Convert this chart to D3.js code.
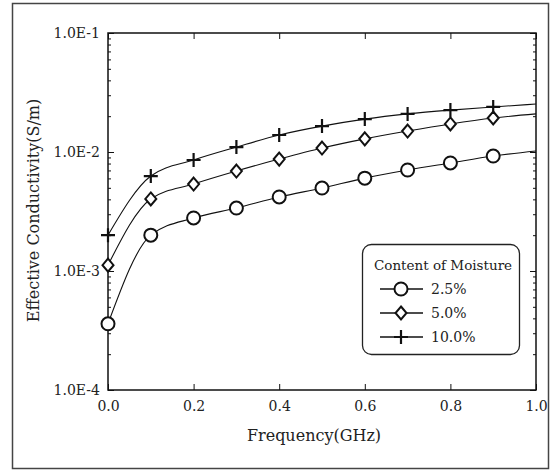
<!DOCTYPE html>
<html>
<head>
<meta charset="utf-8">
<script src="https://cdn.jsdelivr.net/npm/d3@7"></script>
<style>
  body { margin: 0; background: #fff; }
  text { font-family: "DejaVu Serif", "Liberation Serif", serif; fill: #222; }
</style>
</head>
<body>
<div id="chart"></div>
<script>
const frequency = [0.0, 0.1, 0.2, 0.3, 0.4, 0.5, 0.6, 0.7, 0.8, 0.9, 1.0];
const moisture25 = [3.6e-4, 2.0e-3, 2.79e-3, 3.38e-3, 4.19e-3, 4.98e-3, 6.03e-3, 7.06e-3, 8.09e-3, 9.25e-3, 1.02e-2];
const moisture50 = [1.12e-3, 4.03e-3, 5.38e-3, 6.92e-3, 8.72e-3, 1.08e-2, 1.29e-2, 1.50e-2, 1.72e-2, 1.93e-2, 2.09e-2];
const moisture100 = [2.0e-3, 6.28e-3, 8.57e-3, 1.10e-2, 1.39e-2, 1.65e-2, 1.89e-2, 2.09e-2, 2.25e-2, 2.39e-2, 2.53e-2];
const seriesNames = ['2.5%', '5.0%', '10.0%'];
const xTicks = [0, 0.2, 0.4, 0.6, 0.8, 1.0];
const yTicks = [1e-4, 1e-3, 1e-2, 1e-1];
const yTickLabels = ['1.0E-4', '1.0E-3', '1.0E-2', '1.0E-1'];

const W = 557, H = 472;
const margin = {top: 33, right: 21, bottom: 82, left: 108};
const width = W - margin.left - margin.right,
      height = H - margin.top - margin.bottom;

const svg = d3.select('#chart').append('svg')
    .attr('width', W)
    .attr('height', H);

// outer frame
svg.append('rect')
    .attr('x', 12.5).attr('y', 3.5)
    .attr('width', 536).attr('height', 465)
    .attr('fill', 'none')
    .attr('stroke', '#444')
    .attr('stroke-width', 1.5);

const g = svg.append('g')
    .attr('transform', `translate(${margin.left}, ${margin.top})`);

const xScale = d3.scaleLinear().domain([0, 1]).range([0, width]);
const yScale = d3.scaleLog().domain([1e-4, 1e-1]).range([height, 0]);

// minor y ticks (2..9 per decade)
const minor = [];
for (let d = -4; d < -1; d++) {
  for (let k = 2; k <= 9; k++) minor.push(k * Math.pow(10, d));
}

// axes
g.append('g')
    .attr('transform', `translate(0, ${height})`)
    .call(d3.axisBottom(xScale).tickValues(xTicks).tickSizeInner(-6).tickSizeOuter(0)
        .tickPadding(11).tickFormat(d3.format('.1f')));
g.append('g')
    .call(d3.axisTop(xScale).tickValues(xTicks).tickSizeInner(-6).tickSizeOuter(0).tickFormat(''));
g.append('g')
    .call(d3.axisLeft(yScale).tickValues(yTicks).tickSizeInner(-6).tickSizeOuter(0)
        .tickPadding(8).tickFormat((d, i) => yTickLabels[i]));
g.append('g')
    .call(d3.axisLeft(yScale).tickValues(minor).tickSizeInner(-3).tickSizeOuter(0).tickFormat(''));
g.append('g')
    .attr('transform', `translate(${width}, 0)`)
    .call(d3.axisRight(yScale).tickValues(minor).tickSizeInner(-3).tickSizeOuter(0).tickFormat(''));
g.append('g')
    .attr('transform', `translate(${width}, 0)`)
    .call(d3.axisRight(yScale).tickValues(yTicks).tickSizeInner(-6).tickSizeOuter(0).tickFormat(''));

g.selectAll('.domain').remove();
g.selectAll('.tick line').attr('stroke', '#111');
g.selectAll('.tick text').attr('font-size', 14).attr('fill', '#222')
    .style('font-family', '"DejaVu Serif", serif');

g.append('rect')
    .attr('width', width).attr('height', height)
    .attr('fill', 'none').attr('stroke', '#111').attr('stroke-width', 1.5);

// axis titles
svg.append('text')
    .attr('x', margin.left + width / 2 - 8).attr('y', 441)
    .attr('text-anchor', 'middle').attr('font-size', 16)
    .text('Frequency(GHz)');
svg.append('text')
    .attr('transform', `translate(39, ${margin.top + height / 2 - 1}) rotate(-90)`)
    .attr('text-anchor', 'middle').attr('font-size', 16)
    .text('Effective Conductivity(S/m)');

// lines
const line = d3.line()
    .x((d, i) => xScale(frequency[i]))
    .y(d => yScale(d))
    .curve(d3.curveMonotoneX);

const allSeries = [moisture25, moisture50, moisture100];

allSeries.forEach(s => {
  g.append('path')
      .datum(s)
      .attr('fill', 'none')
      .attr('stroke', '#111')
      .attr('stroke-width', 1.1)
      .attr('d', line);
});

function drawMarker(sel, type, x, y) {
  if (type === 0) {
    sel.append('circle').attr('cx', x).attr('cy', y).attr('r', 6.5)
        .attr('fill', '#fff').attr('stroke', '#111').attr('stroke-width', 2);
  } else if (type === 1) {
    sel.append('path').attr('transform', `translate(${x},${y})`)
        .attr('d', 'M0,-6.5L5.5,0L0,6.5L-5.5,0Z')
        .attr('fill', '#fff').attr('stroke', '#111').attr('stroke-width', 2);
  } else {
    sel.append('path').attr('transform', `translate(${x},${y})`)
        .attr('d', 'M-7,0H7M0,-7V7')
        .attr('fill', 'none').attr('stroke', '#111').attr('stroke-width', 2.2);
  }
}

allSeries.forEach((s, si) => {
  s.slice(0, 10).forEach((v, i) => {
    drawMarker(g, si, xScale(frequency[i]), yScale(v));
  });
});

// legend
const lg = svg.append('g').attr('transform', 'translate(362, 244)');
lg.append('rect')
    .attr('x', 0.5).attr('y', 0.5)
    .attr('width', 157).attr('height', 110)
    .attr('rx', 9).attr('fill', '#fff')
    .attr('stroke', '#222').attr('stroke-width', 1.3);
lg.append('text')
    .attr('x', 81).attr('y', 26)
    .attr('text-anchor', 'middle').attr('font-size', 13.5)
    .text('Content of Moisture');
seriesNames.forEach((name, i) => {
  const y = 45 + i * 24;
  lg.append('line')
      .attr('x1', 18).attr('x2', 61).attr('y1', y).attr('y2', y)
      .attr('stroke', '#111').attr('stroke-width', 1.3);
  drawMarker(lg, i, 39, y);
  lg.append('text')
      .attr('x', 69).attr('y', y + 5)
      .attr('font-size', 14)
      .text(name);
});
</script>
</body>
</html>
